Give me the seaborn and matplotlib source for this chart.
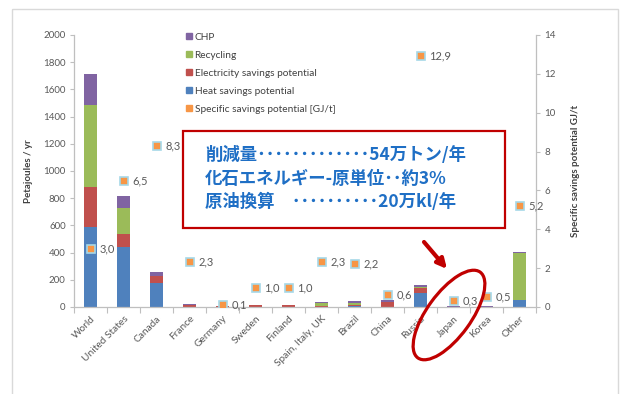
import matplotlib
matplotlib.use("Agg")
import matplotlib.pyplot as plt
import seaborn as sns
import pandas as pd
import numpy as np
from matplotlib.patches import Rectangle, Ellipse
from matplotlib.lines import Line2D

# ---------------- data ----------------
countries = ["World", "United States", "Canada", "France", "Germany", "Sweden",
             "Finland", "Spain, Italy, UK", "Brazil", "China", "Russia", "Japan",
             "Korea", "Other"]
heat = [590, 443, 174, 0, 0, 0, 0, 0, 8, 0, 100, 0, 0, 51]
electricity = [295, 91, 56, 15, 4, 12, 14, 10, 8, 35, 37, 2, 2, 3]
recycling = [600, 191, 0, 0, 0, 0, 0, 20, 16, 0, 12, 0, 0, 340]
chp = [230, 91, 25, 4, 4, 5, 0, 9, 12, 20, 13, 3, 4, 8]
specific = [3.0, 6.5, 8.3, 2.3, 0.1, 1.0, 1.0, 2.3, 2.2, 0.6, 12.9, 0.3, 0.5, 5.2]

series_names = ["Heat savings potential", "Electricity savings potential",
                "Recycling", "CHP"]
colors = {"Heat savings potential": "#4F81BD",
          "Electricity savings potential": "#C0504D",
          "Recycling": "#9BBB59",
          "CHP": "#8064A2"}
orange = "#F79646"

box_lines = ["削減量･････････････54万トン/年",
             "化石エネルギー-原単位･･約3%",
             "原油換算　･･････････20万kl/年"]

# ---------------- figure ----------------
sns.set_theme(style="white")
plt.rcParams["font.family"] = ["Lato", "DejaVu Sans"]

W, H = 625, 394
fig = plt.figure(figsize=(W / 100, H / 100), dpi=100)
ax = fig.add_axes([74 / W, 1 - 307 / H, 462 / W, 272 / H])

df = pd.DataFrame({"country": countries,
                   "Heat savings potential": heat,
                   "Electricity savings potential": electricity,
                   "Recycling": recycling,
                   "CHP": chp})
cum = df[series_names].cumsum(axis=1)
for name in reversed(series_names):
    sns.barplot(x=df["country"], y=cum[name], color=colors[name], width=0.4,
                saturation=1, linewidth=0, order=countries, ax=ax)

ax.set_ylim(0, 2000)
ax.set_yticks(range(0, 2001, 200))
ax.set_xlim(-0.5, len(countries) - 0.5)

ax2 = ax.twinx()
sns.pointplot(x=countries, y=specific, order=countries, ax=ax2, errorbar=None,
              linestyle="none", marker="s", color=orange, markersize=6,
              markeredgecolor="#A6D8E8", markeredgewidth=1.2)
ax2.set_ylim(0, 14)
ax2.set_yticks(range(0, 15, 2))
ax2.set_xlim(-0.5, len(countries) - 0.5)
for i, v in enumerate(specific):
    ax2.annotate(f"{v:.1f}".replace(".", ","), (i, v), xytext=(6.5, 0),
                 textcoords="offset points", va="center", ha="left",
                 fontsize=8, color="#595959")

# axes styling
grey = "#BFBFBF"
for a in (ax, ax2):
    for s in a.spines.values():
        s.set_visible(False)
ax.spines["left"].set_visible(True)
ax.spines["bottom"].set_visible(True)
ax2.spines["right"].set_visible(True)
for s in (ax.spines["left"], ax.spines["bottom"], ax2.spines["right"]):
    s.set_color(grey)
    s.set_linewidth(0.9)

ax.tick_params(axis="y", left=True, length=3, width=0.8, color=grey, pad=3,
               labelsize=7, labelcolor="#595959")
ax2.tick_params(axis="y", right=True, length=3, width=0.8, color=grey, pad=3,
                labelsize=7, labelcolor="#595959")
ax.set_xticks(np.arange(-0.5, len(countries), 1), minor=True)
ax.tick_params(axis="x", which="major", length=0, pad=5, labelsize=7.3,
               labelcolor="#595959")
ax.tick_params(axis="x", which="minor", bottom=True, length=4, width=0.8,
               color=grey)
ax.set_xticks(range(len(countries)))
ax.set_xticklabels(countries, rotation=45, ha="right", rotation_mode="anchor")
ax.set_xlabel("")
ax.set_ylabel("Petajoules / yr", fontsize=7, fontweight="bold", color="#404040")
ax.yaxis.set_label_coords(-(74 - 33) / 462, 0.5)
ax2.set_ylabel("Specific savings potential GJ/t", fontsize=7,
               fontweight="bold", color="#404040")
ax2.yaxis.set_label_coords((571 - 74) / 462, 0.5)

# legend
handles = [Line2D([], [], marker="s", linestyle="none", color=colors["CHP"], markersize=5),
           Line2D([], [], marker="s", linestyle="none", color=colors["Recycling"], markersize=5),
           Line2D([], [], marker="s", linestyle="none", color=colors["Electricity savings potential"], markersize=5),
           Line2D([], [], marker="s", linestyle="none", color=colors["Heat savings potential"], markersize=5),
           Line2D([], [], marker="s", linestyle="none", color=orange, markersize=5)]
labels = ["CHP", "Recycling", "Electricity savings potential",
          "Heat savings potential", "Specific savings potential [GJ/t]"]
leg = fig.legend(handles, labels, loc="upper left",
                 bbox_to_anchor=(186 / W, 1 - 32.5 / H), frameon=False,
                 fontsize=7.3, handlelength=0.6, handletextpad=0.25,
                 labelspacing=0.88, borderaxespad=0, borderpad=0)
for t in leg.get_texts():
    t.set_color("#404040")

# overlay annotations (pixel coordinates)
ov = fig.add_axes([0, 0, 1, 1], zorder=10)
ov.set_xlim(0, W)
ov.set_ylim(H, 0)
ov.axis("off")
ov.patch.set_alpha(0)
ov.add_patch(Rectangle((12, 9), 606, 420, fill=False, ec="#D9D9D9", lw=1))
ov.add_patch(Rectangle((183, 131), 322, 97, fc="white", ec="#C00000", lw=1.6))
for k, line in enumerate(box_lines):
    ov.text(205, 155 + 23.5 * k, line, va="center", ha="left", fontsize=12.5,
            fontweight="bold", color="#1F6FC5",
            family=["Noto Sans CJK JP", "DejaVu Sans"])
ov.add_patch(Ellipse((449, 315), 106, 44, angle=-54, fill=False,
                     ec="#C00000", lw=2.3))
ov.annotate("", xy=(447, 269), xytext=(424, 242),
            arrowprops=dict(arrowstyle="-|>", color="#C00000", lw=3,
                            mutation_scale=14, shrinkA=0, shrinkB=0))

fig.savefig("out.png", dpi=100)
